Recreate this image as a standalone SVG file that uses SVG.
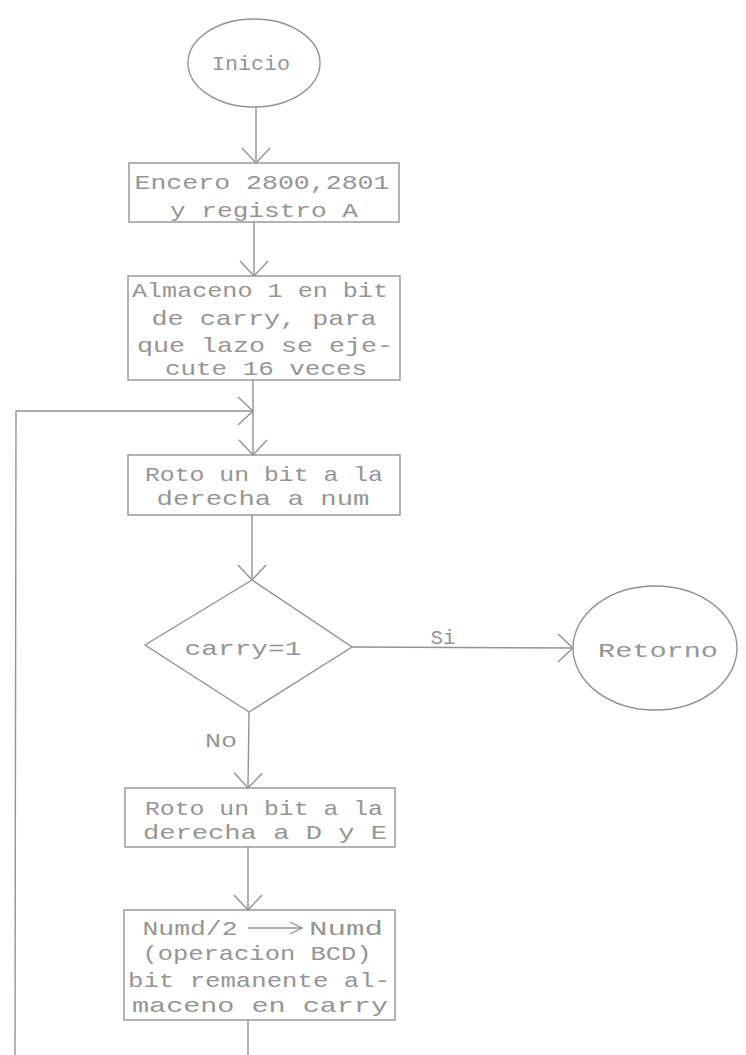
<svg xmlns="http://www.w3.org/2000/svg" width="746" height="1055" viewBox="0 0 746 1055">
<style>
.shape{fill:none;stroke:#939393;stroke-width:1.4}
.conn{fill:none;stroke:#939393;stroke-width:1.4}
.t{font-family:"Liberation Mono","DejaVu Sans Mono",monospace;font-size:21px;fill:#959595;text-anchor:middle}
</style>
<defs>
<marker id="arr" markerUnits="userSpaceOnUse" markerWidth="40" markerHeight="40" refX="0" refY="0" viewBox="-20 -20 40 40" orient="auto">
<path d="M-15,-14 L0,0 L-15,14" fill="none" stroke="#939393" stroke-width="1.4"/>
</marker>
</defs>
<rect width="746" height="1055" fill="#ffffff"/>
<g id="connectors">
<line class="conn" x1="256" y1="107" x2="256" y2="163" marker-end="url(#arr)"/>
<line class="conn" x1="254" y1="222" x2="254" y2="276" marker-end="url(#arr)"/>
<line class="conn" x1="253" y1="380" x2="253" y2="455" marker-end="url(#arr)"/>
<polyline class="conn" points="15,1055 16,411 253,411" marker-end="url(#arr)"/>
<line class="conn" x1="252" y1="515" x2="252" y2="580" marker-end="url(#arr)"/>
<line class="conn" x1="352" y1="647" x2="573" y2="648" marker-end="url(#arr)"/>
<line class="conn" x1="249" y1="712" x2="248" y2="788" marker-end="url(#arr)"/>
<line class="conn" x1="248" y1="847" x2="248" y2="910" marker-end="url(#arr)"/>
<line class="conn" x1="248" y1="1020" x2="248" y2="1055"/>
<text class="t" x="443" y="644" textLength="25" lengthAdjust="spacingAndGlyphs">Si</text>
<text class="t" x="221" y="747" textLength="32" lengthAdjust="spacingAndGlyphs">No</text>
</g>
<g id="inicio">
<ellipse class="shape" cx="254" cy="63" rx="66" ry="44"/>
<text class="t" x="251" y="70" textLength="78" lengthAdjust="spacingAndGlyphs">Inicio</text>
</g>
<g id="encero">
<rect class="shape" x="129" y="163" width="270" height="59"/>
<text class="t" x="262" y="189" textLength="255" lengthAdjust="spacingAndGlyphs">Encero 2800,2801</text>
<text class="t" x="264" y="217" textLength="188" lengthAdjust="spacingAndGlyphs">y registro A</text>
</g>
<g id="almaceno">
<rect class="shape" x="128" y="276" width="272" height="104"/>
<text class="t" x="260" y="297" textLength="256" lengthAdjust="spacingAndGlyphs">Almaceno 1 en bit</text>
<text class="t" x="264" y="325" textLength="225" lengthAdjust="spacingAndGlyphs">de carry, para</text>
<text class="t" x="265" y="352" textLength="256" lengthAdjust="spacingAndGlyphs">que lazo se eje-</text>
<text class="t" x="266" y="375" textLength="202" lengthAdjust="spacingAndGlyphs">cute 16 veces</text>
</g>
<g id="roto-num">
<rect class="shape" x="128" y="455" width="272" height="60"/>
<text class="t" x="264" y="481" textLength="238" lengthAdjust="spacingAndGlyphs">Roto un bit a la</text>
<text class="t" x="263" y="505" textLength="213" lengthAdjust="spacingAndGlyphs">derecha a num</text>
</g>
<g id="carry">
<polygon class="shape" points="252,580 352,647 249,712 145,645"/>
<text class="t" x="243" y="655" textLength="117" lengthAdjust="spacingAndGlyphs">carry=1</text>
</g>
<g id="retorno">
<ellipse class="shape" cx="655" cy="648" rx="82" ry="62"/>
<text class="t" x="658" y="657" textLength="120" lengthAdjust="spacingAndGlyphs">Retorno</text>
</g>
<g id="roto-de">
<rect class="shape" x="125" y="788" width="270" height="59"/>
<text class="t" x="264" y="815" textLength="238" lengthAdjust="spacingAndGlyphs">Roto un bit a la</text>
<text class="t" x="265" y="839" textLength="244" lengthAdjust="spacingAndGlyphs">derecha a D y E</text>
</g>
<g id="numd">
<rect class="shape" x="124" y="910" width="271" height="110"/>
<text class="t" x="190" y="935" textLength="95" lengthAdjust="spacingAndGlyphs">Numd/2</text>
<path d="M248,928 H301 M290,922 L302,928 L290,934" fill="none" stroke="#959595" stroke-width="1.3"/>
<text class="t" x="346" y="935" textLength="74" lengthAdjust="spacingAndGlyphs">Numd</text>
<text class="t" x="257" y="960" textLength="229" lengthAdjust="spacingAndGlyphs">(operacion BCD)</text>
<text class="t" x="259" y="987" textLength="262" lengthAdjust="spacingAndGlyphs">bit remanente al-</text>
<text class="t" x="260" y="1012" textLength="256" lengthAdjust="spacingAndGlyphs">maceno en carry</text>
</g>
</svg>
